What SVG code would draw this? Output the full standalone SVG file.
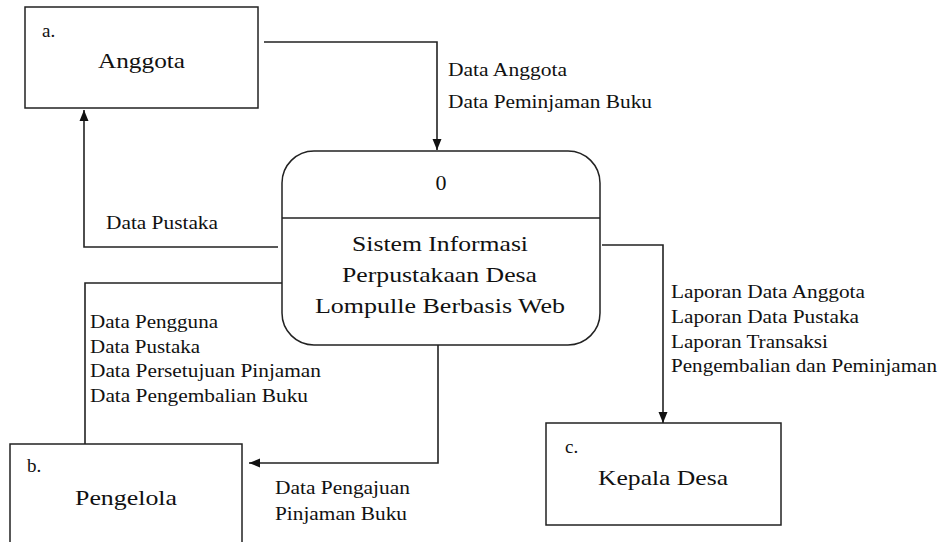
<svg xmlns="http://www.w3.org/2000/svg" width="944" height="542" viewBox="0 0 944 542" font-family="'Liberation Serif', 'Times New Roman', serif">
<style>
.box{fill:#fff;stroke:#222;stroke-width:1.5}
.ln{fill:none;stroke:#222;stroke-width:1.6}
.lbl{font-size:18px;fill:#111}
.big{font-size:22px;fill:#111}
.num{font-size:19px;fill:#111}
</style>
<defs>
<marker id="arr" markerUnits="userSpaceOnUse" markerWidth="12" markerHeight="10" refX="11" refY="5" orient="auto">
<path d="M0,0.5 L11,5 L0,9.5 z" fill="#111"/>
</marker>
</defs>
<rect width="944" height="542" fill="#fff"/>
<g id="connectors">
<path class="ln" d="M264,42 H437 V150" marker-end="url(#arr)"/>
<path class="ln" d="M278,247 H84 V110" marker-end="url(#arr)"/>
<path class="ln" d="M282,283 H85 V444"/>
<path class="ln" d="M438,345 V463 H249" marker-end="url(#arr)"/>
<path class="ln" d="M602,245 H663 V423" marker-end="url(#arr)"/>
<text class="lbl" x="448" y="76" textLength="119" lengthAdjust="spacingAndGlyphs">Data Anggota</text>
<text class="lbl" x="448" y="108" textLength="204" lengthAdjust="spacingAndGlyphs">Data Peminjaman Buku</text>
<text class="lbl" x="106" y="229" textLength="112" lengthAdjust="spacingAndGlyphs">Data Pustaka</text>
<text class="lbl" x="90" y="328" textLength="128" lengthAdjust="spacingAndGlyphs">Data Pengguna</text>
<text class="lbl" x="90" y="353" textLength="110" lengthAdjust="spacingAndGlyphs">Data Pustaka</text>
<text class="lbl" x="90" y="377" textLength="231" lengthAdjust="spacingAndGlyphs">Data Persetujuan Pinjaman</text>
<text class="lbl" x="90" y="402" textLength="218" lengthAdjust="spacingAndGlyphs">Data Pengembalian Buku</text>
<text class="lbl" x="275" y="494" textLength="135" lengthAdjust="spacingAndGlyphs">Data Pengajuan</text>
<text class="lbl" x="275" y="520" textLength="132" lengthAdjust="spacingAndGlyphs">Pinjaman Buku</text>
<text class="lbl" x="671" y="298" textLength="194" lengthAdjust="spacingAndGlyphs">Laporan Data Anggota</text>
<text class="lbl" x="671" y="323" textLength="188" lengthAdjust="spacingAndGlyphs">Laporan Data Pustaka</text>
<text class="lbl" x="671" y="348" textLength="157" lengthAdjust="spacingAndGlyphs">Laporan Transaksi</text>
<text class="lbl" x="671" y="372" textLength="266" lengthAdjust="spacingAndGlyphs">Pengembalian dan Peminjaman</text>
</g>
<g id="anggota">
<rect class="box" x="25" y="7" width="233" height="101"/>
<text class="num" x="42" y="37">a.</text>
<text class="big" x="98" y="68" textLength="87" lengthAdjust="spacingAndGlyphs">Anggota</text>
</g>
<g id="process">
<rect class="box" x="282" y="151" width="318" height="194" rx="32"/>
<line class="ln" x1="282" y1="218" x2="600" y2="218"/>
<text class="big" x="441" y="190" text-anchor="middle">0</text>
<text class="big" x="352" y="251" textLength="176" lengthAdjust="spacingAndGlyphs">Sistem Informasi</text>
<text class="big" x="342" y="282" textLength="195" lengthAdjust="spacingAndGlyphs">Perpustakaan Desa</text>
<text class="big" x="315" y="313" textLength="250" lengthAdjust="spacingAndGlyphs">Lompulle Berbasis Web</text>
</g>
<g id="pengelola">
<rect class="box" x="10" y="444" width="232" height="110"/>
<text class="num" x="27" y="472">b.</text>
<text class="big" x="75" y="505" textLength="102" lengthAdjust="spacingAndGlyphs">Pengelola</text>
</g>
<g id="kepala-desa">
<rect class="box" x="546" y="423" width="235" height="102"/>
<text class="num" x="565" y="453">c.</text>
<text class="big" x="598" y="485" textLength="130" lengthAdjust="spacingAndGlyphs">Kepala Desa</text>
</g>
</svg>
